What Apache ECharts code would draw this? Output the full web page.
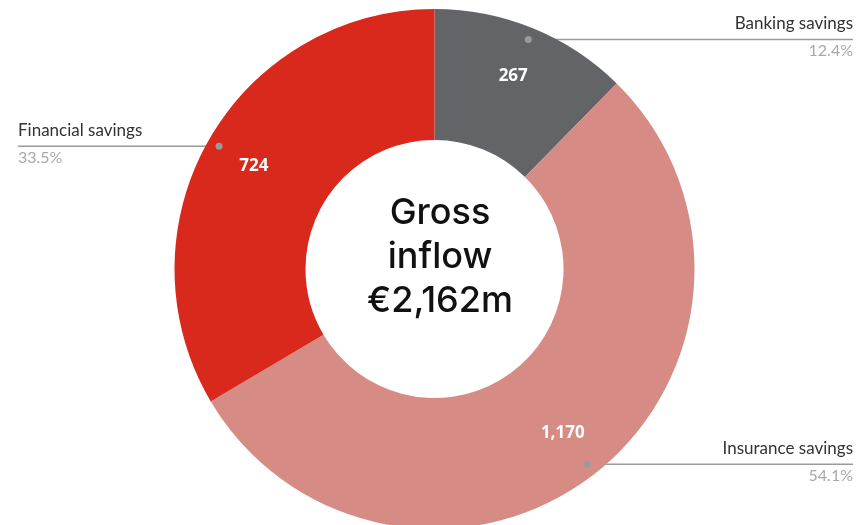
<!DOCTYPE html>
<html>
<head>
<meta charset="utf-8">
<script src="https://cdn.jsdelivr.net/npm/echarts@6/dist/echarts.min.js"></script>
<style>
  html, body { margin: 0; padding: 0; background: #fff; }
  #main { width: 856px; height: 525px; }
</style>
</head>
<body>
<div id="main"></div>
<script>
// data
const names = ["Banking savings", "Insurance savings", "Financial savings"];
const values = [267, 1170, 724];
const shares = ["12.4%", "54.1%", "33.5%"];
const colors = ["#626468", "#d78b85", "#d9291c"];
const centerText = ["Gross", "inflow", "€2,162m"];

const W = 856;
let dots = [];

let myCharts = echarts.init(document.getElementById("main"));

let option = {
  animation: false,
  title: {
    text: centerText.join("\n"),
    left: 435,
    top: 252,
    textAlign: "center",
    textVerticalAlign: "middle",
    textStyle: {
      fontFamily: "Inter",
      fontWeight: 500,
      fontSize: 36,
      lineHeight: 44,
      color: "#111",
    },
  },
  series: [
    // the visible ring
    {
      type: "pie",
      center: [434.5, 269],
      radius: [129, 260],
      startAngle: 90,
      silent: true,
      label: { show: false },
      labelLine: { show: false },
      data: names.map((n, i) => ({
        name: n,
        value: values[i],
        itemStyle: { color: colors[i] },
      })),
    },
    // value labels inside the ring
    {
      type: "pie",
      center: [434.5, 269],
      radius: [152, 258],
      startAngle: 90,
      silent: true,
      itemStyle: { color: "transparent" },
      label: {
        position: "inside",
        color: "#fff",
        fontFamily: "Open Sans",
        fontWeight: "bold",
        fontSize: 17,
        formatter: (p) => p.value.toLocaleString("en-US"),
      },
      data: names.map((n, i) => ({ name: n, value: values[i] })),
    },
    // names and shares outside, with leader lines
    {
      type: "pie",
      center: [434.5, 269],
      radius: [0, 248],
      startAngle: 90,
      silent: true,
      itemStyle: { color: "transparent" },
      label: {
        position: "outside",
        formatter: (p) => "{n|" + p.name + "}\n{p|" + shares[p.dataIndex] + "}",
        rich: {
          n: { fontFamily: "Lato", fontSize: 17, color: "#333", lineHeight: 27 },
          p: { fontFamily: "Lato", fontSize: 16, color: "#a8a8a8", lineHeight: 27 },
        },
      },
      labelLine: {
        show: true,
        length: 0,
        length2: 10,
        lineStyle: { color: "#9a9a9a", width: 1.5 },
      },
      labelLayout: function (params) {
        const start = params.labelLinePoints[0];
        const isLeft = start[0] < 434.5;
        const edge = isLeft ? 18 : W - 3;
        dots[params.dataIndex] = [start[0], start[1]];
        return {
          x: edge,
          y: start[1] - 2,
          align: isLeft ? "left" : "right",
          verticalAlign: "middle",
          labelLinePoints: [
            [start[0], start[1]],
            [start[0], start[1]],
            [edge, start[1]],
          ],
        };
      },
      data: names.map((n, i) => ({ name: n, value: values[i] })),
    },
  ],
};

myCharts.setOption(option);

// small dots where the leader lines start
myCharts.setOption({
  graphic: dots.map((d) => ({
    type: "circle",
    shape: { cx: d[0], cy: d[1], r: 3.5 },
    style: { fill: "#9a9a9a" },
    z: 10,
  })),
});
</script>
</body>
</html>
